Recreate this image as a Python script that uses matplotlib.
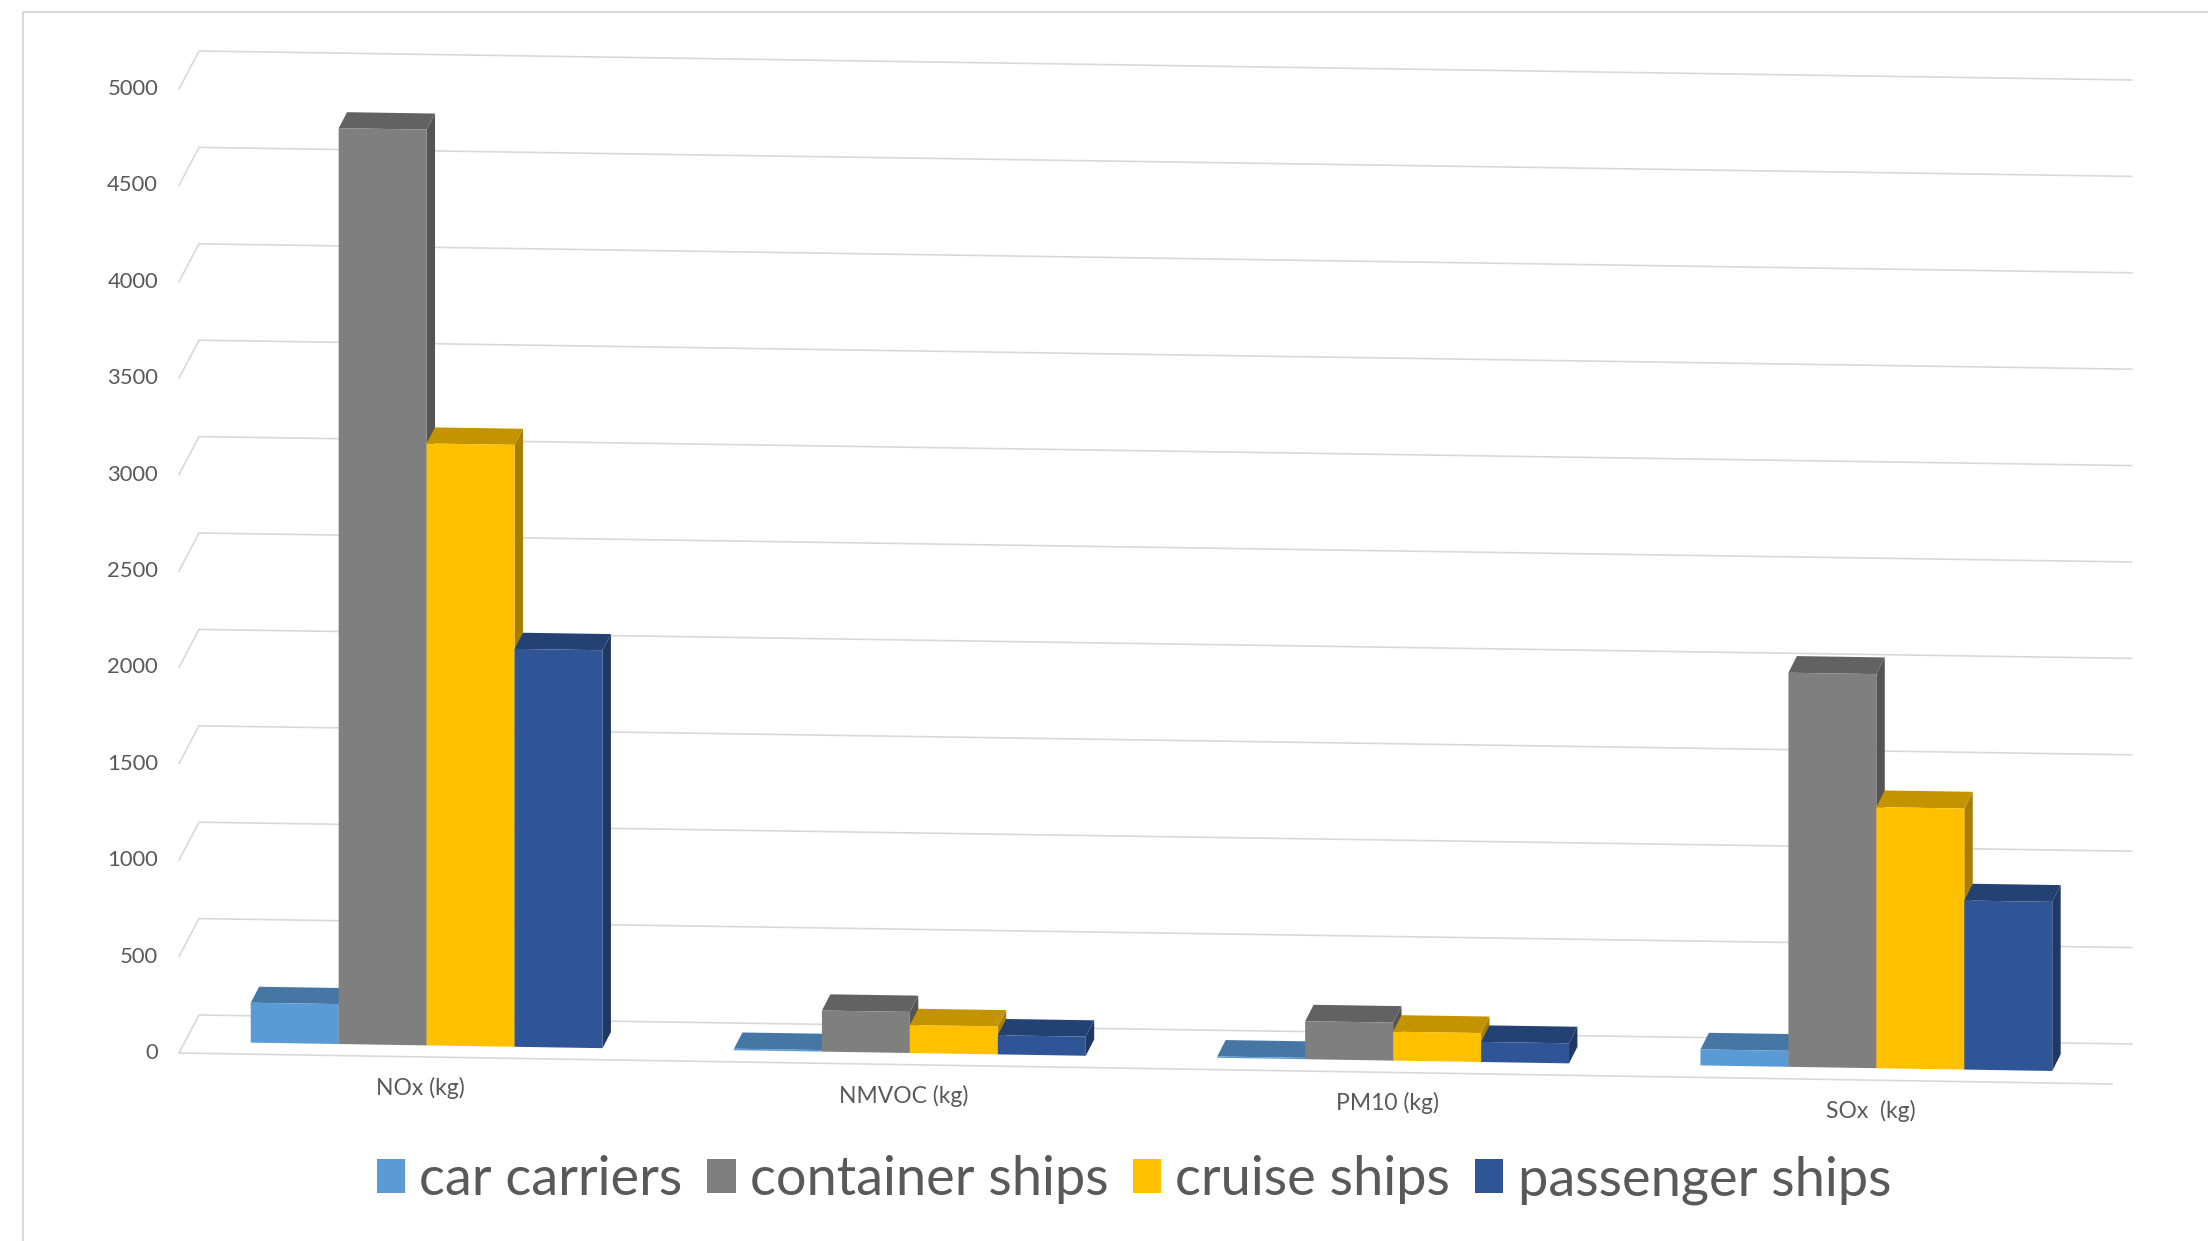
import matplotlib.pyplot as plt
from matplotlib.patches import Polygon, Rectangle
import numpy as np

# emissions per pollutant (kg) for each ship type
categories = ["NOx (kg)", "NMVOC (kg)", "PM10 (kg)", "SOx  (kg)"]
series_names = ["car carriers", "container ships", "cruise ships", "passenger ships"]
car_carriers = [207, 8, 7, 83]
container_ships = [4750, 213, 197, 2044]
cruise_ships = [3122, 145, 150, 1354]
passenger_ships = [2064, 99, 104, 877]
y_ticks = [0, 500, 1000, 1500, 2000, 2500, 3000, 3500, 4000, 4500, 5000]

series_values = [car_carriers, container_ships, cruise_ships, passenger_ships]
front_colors = ["#5B9BD5", "#7F7F7F", "#FFC000", "#2F5597"]

plt.rcParams['font.family'] = ['Lato', 'DejaVu Sans']
text_color = '#595959'
grid_color = '#D9D9D9'

W_PX, H_PX = 2208, 1241
fig = plt.figure(figsize=(W_PX / 100, H_PX / 100), dpi=100)
ax = fig.add_axes([0, 0, 1, 1])
ax.set_xlim(0, W_PX)
ax.set_ylim(H_PX, 0)
ax.axis('off')

# oblique 3D box: u across categories (0..1), d depth (0 front, 1 back), v value
X0, Y0 = 179, 1053       # front-left floor corner
WIDTH = 1933             # floor width
DX, DY = 20, -38         # offset from front to back wall
VMAX, HEIGHT = 5000, 964 # value range and its height


def proj(u, d, v):
    x = X0 + WIDTH * u + DX * d
    y = Y0 + u * (31 - 2 * d) + DY * d - v * HEIGHT / VMAX
    return x, y


def shade(color, f):
    rgb = np.array(plt.matplotlib.colors.to_rgb(color))
    return tuple(rgb * f)


# back wall gridlines + left wall slants + tick labels
for t in y_ticks:
    xa, ya = proj(0, 0, t)
    xb, yb = proj(0, 1, t)
    xc, yc = proj(1, 1, t)
    ax.plot([xa, xb, xc], [ya, yb, yc], color=grid_color, lw=1.2, zorder=1,
            solid_capstyle='round')
    ax.text(xa - 21, ya, f"{t}", ha='right', va='center', fontsize=15.8,
            color=text_color)

# front edge of floor
xa, ya = proj(0, 0, 0)
xb, yb = proj(1, 0, 0)
ax.plot([xa, xb], [ya, yb], color=grid_color, lw=1.2, zorder=1)

# bars
n_cat = len(categories)
n_ser = len(series_values)
bar_w = 0.0455
d0, d1 = 0.3, 0.72
z = 2
for i in range(n_cat):
    u_mid = (i + 0.5) / n_cat
    for j in range(n_ser):
        v = series_values[j][i]
        uL = u_mid - bar_w * n_ser / 2 + j * bar_w
        uR = uL + bar_w
        col = front_colors[j]
        side = [proj(uR, d0, 0), proj(uR, d1, 0), proj(uR, d1, v), proj(uR, d0, v)]
        top = [proj(uL, d0, v), proj(uR, d0, v), proj(uR, d1, v), proj(uL, d1, v)]
        front = [proj(uL, d0, 0), proj(uR, d0, 0), proj(uR, d0, v), proj(uL, d0, v)]
        ax.add_patch(Polygon(side, closed=True, facecolor=shade(col, 0.66),
                             edgecolor='none', zorder=z))
        ax.add_patch(Polygon(top, closed=True, facecolor=shade(col, 0.77),
                             edgecolor='none', zorder=z + 1))
        ax.add_patch(Polygon(front, closed=True, facecolor=col,
                             edgecolor='none', zorder=z + 2))
        z += 3
    # category label under the floor
    xl, yl = proj(u_mid, 0, 0)
    ax.text(xl, yl + 31, categories[i], ha='center', va='center',
            fontsize=16.5, color=text_color)

# chart area border (top and left edges)
ax.plot([23, 23, W_PX], [H_PX, 12, 12], color=grid_color, lw=1.5, zorder=0)

handles = [Rectangle((0, 0), 1, 1, facecolor=c, edgecolor='none') for c in front_colors]
fig.legend(handles, series_names, loc='center', bbox_to_anchor=(1134 / W_PX, 1 - 1180 / H_PX),
           ncol=4, frameon=False, fontsize=39, labelcolor=text_color,
           handlelength=0.52, handleheight=0.6, handletextpad=0.26, columnspacing=0.46)

fig.savefig('out.png', dpi=100)
